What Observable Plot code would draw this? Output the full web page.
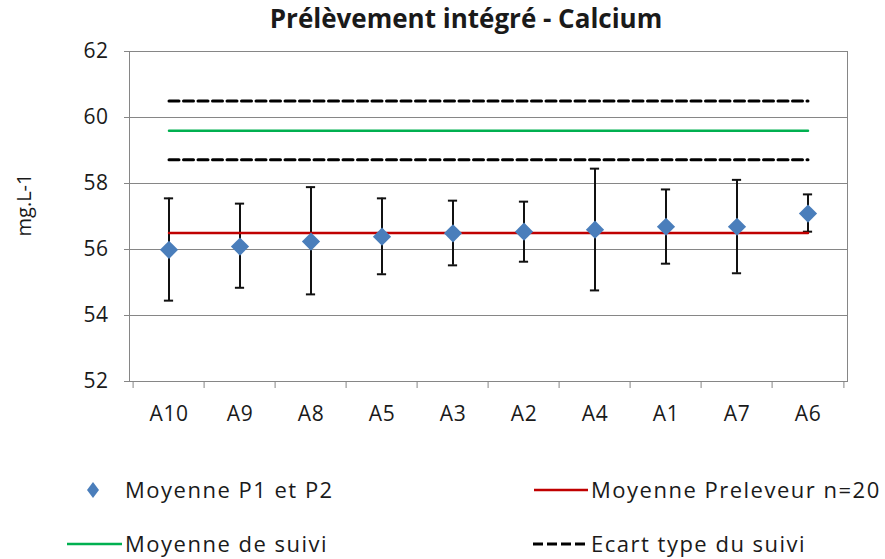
<!DOCTYPE html>
<html>
<head>
<meta charset="utf-8">
<script src="https://cdn.jsdelivr.net/npm/d3@7"></script>
<script src="https://cdn.jsdelivr.net/npm/@observablehq/plot@0.6"></script>
<style>
  body { margin: 0; background: #fff; }
  #wrap { position: relative; width: 885px; height: 559px; font-family: "Open Sans", sans-serif; color: #1a1a1a; }
  #chart { position: absolute; left: 0; top: 0; }
  #title { position: absolute; left: 0; top: 2px; width: 932px; text-align: center; font-weight: bold; font-size: 26px; line-height: 32px; }
  #ylab { position: absolute; left: 23px; top: 205px; transform: translate(-50%, -50%) rotate(-90deg); font-size: 20px; white-space: nowrap; }
  .leg { position: absolute; font-size: 22px; letter-spacing: 1.5px; line-height: 1; white-space: nowrap; }
  .sw { position: absolute; }
</style>
</head>
<body>
<div id="wrap">
  <div id="chart"></div>
  <div id="title">Prélèvement intégré - Calcium</div>
  <div id="ylab">mg.L-1</div>
</div>
<script>
const categories = ["A10", "A9", "A8", "A5", "A3", "A2", "A4", "A1", "A7", "A6"];
const moyenneP1P2 = [55.99, 56.09, 56.24, 56.39, 56.49, 56.54, 56.60, 56.69, 56.69, 57.09];
const erreurHaut = [57.55, 57.39, 57.89, 57.55, 57.48, 57.45, 58.45, 57.82, 58.11, 57.67];
const erreurBas = [54.45, 54.84, 54.64, 55.25, 55.52, 55.63, 54.76, 55.57, 55.28, 56.54];
const moyennePreleveur = 56.5;
const moyenneSuivi = 59.6;
const ecartSuiviHaut = 60.5;
const ecartSuiviBas = 58.72;
const yTicks = [52, 54, 56, 58, 60, 62];
const legendItems = ["Moyenne P1 et P2", "Moyenne Preleveur n=20", "Moyenne de suivi", "Ecart type du suivi"];

const pts = categories.map((c, i) => ({cat: c, y: moyenneP1P2[i], hi: erreurHaut[i], lo: erreurBas[i]}));
const refLine = v => categories.map(c => ({cat: c, y: v}));

const bw = (885 - 129 - 38) / categories.length;

const plot = Plot.plot({
  width: 885,
  height: 559,
  marginTop: 51,
  marginBottom: 178,
  marginLeft: 129,
  marginRight: 38,
  style: {fontFamily: "Open Sans, sans-serif", color: "#1a1a1a", background: "white"},
  x: {type: "band", domain: categories, padding: 0, axis: null},
  y: {domain: [52, 62], axis: null},
  marks: [
    Plot.gridY(yTicks, {stroke: "#868686", strokeOpacity: 1, strokeWidth: 1}),
    Plot.frame({stroke: "#868686", strokeWidth: 1}),
    Plot.axisY(yTicks, {tickSize: 5, tickPadding: 16, fontSize: 21, stroke: "#868686", fill: "#1a1a1a", label: null}),
    Plot.axisX({tickSize: 0, tickPadding: 25, fontSize: 21, fill: "#1a1a1a", label: null}),
    Plot.axisX({tickSize: 7, text: null, dx: -bw / 2, stroke: "#868686", label: null}),
    Plot.axisX([categories[categories.length - 1]], {tickSize: 7, text: null, dx: bw / 2, stroke: "#868686", label: null}),
    Plot.lineY(refLine(ecartSuiviHaut), {x: "cat", y: "y", stroke: "#000", strokeWidth: 3, strokeDasharray: "10,4.5"}),
    Plot.lineY(refLine(ecartSuiviBas), {x: "cat", y: "y", stroke: "#000", strokeWidth: 3, strokeDasharray: "10,4.5"}),
    Plot.lineY(refLine(moyenneSuivi), {x: "cat", y: "y", stroke: "#00b050", strokeWidth: 2.5}),
    Plot.ruleX(pts, {x: "cat", y1: "lo", y2: "hi", stroke: "#111", strokeWidth: 2}),
    Plot.tickY(pts, {x: "cat", y: "hi", stroke: "#111", strokeWidth: 2, insetLeft: bw / 2 - 5, insetRight: bw / 2 - 5}),
    Plot.tickY(pts, {x: "cat", y: "lo", stroke: "#111", strokeWidth: 2, insetLeft: bw / 2 - 5, insetRight: bw / 2 - 5}),
    Plot.lineY(refLine(moyennePreleveur), {x: "cat", y: "y", stroke: "#c00000", strokeWidth: 2.5}),
    Plot.dot(pts, {x: "cat", y: "y", symbol: "diamond2", r: 8.2, fill: "#4a7ebb", stroke: "none"})
  ]
});
document.getElementById("chart").appendChild(plot);
plot.querySelectorAll("g[aria-label='x-axis tick label'] text, g[aria-label='y-axis tick label'] text").forEach(t => t.setAttribute("letter-spacing", "0.5"));

// legend
const wrap = document.getElementById("wrap");
function addText(txt, left, cy) {
  const d = document.createElement("div");
  d.className = "leg";
  d.textContent = txt;
  d.style.left = left + "px";
  d.style.top = (cy - 12) + "px";
  wrap.appendChild(d);
}
function addSwatch(svg, left, cy, w) {
  const d = document.createElement("div");
  d.className = "sw";
  d.style.left = left + "px";
  d.style.top = (cy - 10) + "px";
  d.innerHTML = `<svg width="${w}" height="20">${svg}</svg>`;
  wrap.appendChild(d);
}
addSwatch(`<path d="M7,2 L13,10 L7,18 L1,10 Z" fill="#4a7ebb"/>`, 86, 490, 14);
addText(legendItems[0], 125, 490);
addSwatch(`<line x1="0" y1="10" x2="54" y2="10" stroke="#c00000" stroke-width="2.5"/>`, 534, 490, 54);
addText(legendItems[1], 591, 490);
addSwatch(`<line x1="0" y1="10" x2="55" y2="10" stroke="#00b050" stroke-width="2.5"/>`, 67, 544, 55);
addText(legendItems[2], 125, 544);
addSwatch(`<line x1="0" y1="10" x2="55" y2="10" stroke="#000" stroke-width="3" stroke-dasharray="10,4"/>`, 533, 544, 55);
addText(legendItems[3], 591, 544);
</script>
</body>
</html>
